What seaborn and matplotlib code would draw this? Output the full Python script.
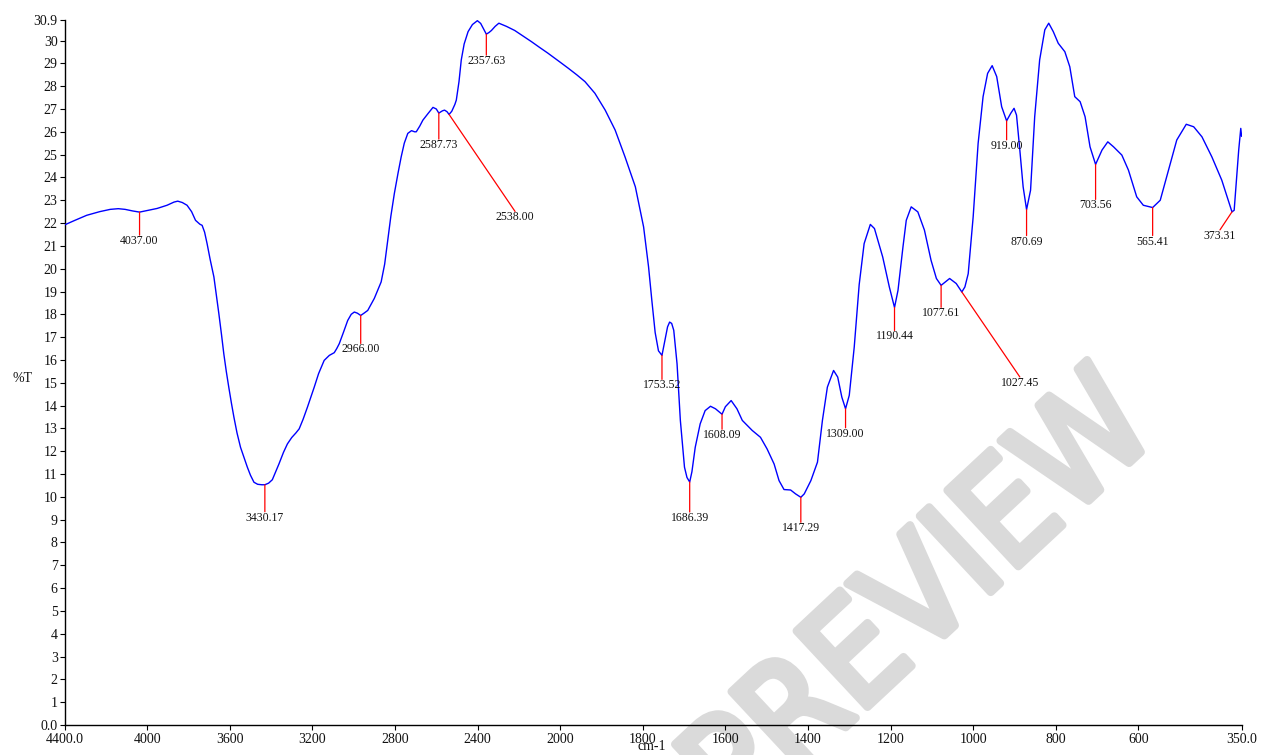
import numpy as np
import pandas as pd
import matplotlib
matplotlib.use("Agg")
import matplotlib.pyplot as plt
import seaborn as sns
from matplotlib import font_manager, patheffects

# IR spectrum: wavenumber (cm-1) and transmittance (%T)
wavenumber = [
    4400, 4350, 4293, 4230, 4179, 4140, 4107, 4070, 4037, 4000, 3952, 3904, 3870, 3852,
    3830, 3807, 3785, 3766, 3745, 3734, 3722, 3710, 3695, 3677, 3665, 3653, 3640, 3629,
    3617, 3605, 3592, 3580, 3565, 3548, 3530, 3515, 3500, 3483, 3465, 3445, 3430.17, 3412,
    3394, 3378, 3362, 3340, 3321, 3300, 3280, 3264, 3245, 3224, 3208, 3191, 3170, 3143,
    3118, 3094, 3082, 3070, 3050, 3029, 3012, 2997, 2982, 2966, 2950, 2932, 2900, 2867,
    2850, 2835, 2820, 2803, 2785, 2770, 2755, 2738, 2720, 2705, 2697, 2680, 2665, 2640,
    2616, 2600, 2587.73, 2570, 2560, 2548, 2538, 2525, 2510, 2503, 2490, 2479, 2465, 2446,
    2425, 2401, 2385, 2373, 2357.63, 2345, 2333, 2315, 2297, 2260, 2220, 2180, 2139, 2100,
    2060, 2026, 2000, 1980, 1960, 1940, 1916, 1891, 1867, 1843, 1818, 1798, 1786, 1778,
    1770, 1762, 1753.52, 1746, 1740, 1735, 1730, 1725, 1717, 1709, 1699, 1693, 1686.39, 1681,
    1673, 1661, 1649, 1636, 1624, 1608.09, 1600, 1586, 1572, 1559, 1535, 1515, 1499, 1482,
    1470, 1458, 1442, 1430, 1417.29, 1409, 1393, 1377, 1365, 1353, 1338, 1328, 1318, 1309,
    1300, 1288, 1276, 1264, 1249, 1239, 1219, 1203, 1190.44, 1182, 1170, 1162, 1150, 1134,
    1118, 1102, 1089, 1077.61, 1057, 1041, 1027.45, 1020, 1012, 1000, 988, 976, 965, 954,
    943, 931, 919, 909, 901, 895, 887, 879, 870.69, 861, 851, 839, 826.5, 817,
    806, 794, 778, 766, 754, 741, 729, 717, 703.56, 688, 674, 660, 640, 624,
    604, 588, 565.41, 547, 527, 507, 484, 466, 446, 422, 398, 373.31, 368, 357,
    352, 350,
]
transmittance = [
    21.92, 22.12, 22.34, 22.50, 22.60, 22.63, 22.60, 22.53, 22.48, 22.55, 22.64, 22.78, 22.92, 22.96,
    22.90, 22.78, 22.50, 22.12, 21.95, 21.90, 21.60, 21.10, 20.40, 19.64, 18.85, 18.03, 17.10, 16.27,
    15.50, 14.81, 14.10, 13.49, 12.80, 12.17, 11.70, 11.30, 10.95, 10.64, 10.55, 10.53, 10.53, 10.60,
    10.75, 11.10, 11.44, 11.95, 12.32, 12.60, 12.80, 12.98, 13.40, 13.93, 14.35, 14.81, 15.40, 15.98,
    16.20, 16.32, 16.50, 16.71, 17.20, 17.73, 18.00, 18.10, 18.05, 17.95, 18.05, 18.17, 18.70, 19.42,
    20.20, 21.25, 22.30, 23.30, 24.20, 24.90, 25.50, 25.93, 26.05, 26.00, 26.00, 26.25, 26.51, 26.80,
    27.07, 27.00, 26.82, 26.92, 26.95, 26.88, 26.76, 26.90, 27.20, 27.39, 28.20, 29.15, 29.85, 30.39,
    30.70, 30.87, 30.75, 30.54, 30.28, 30.35, 30.44, 30.62, 30.76, 30.62, 30.44, 30.20, 29.95, 29.70,
    29.45, 29.22, 29.05, 28.78, 28.50, 28.20, 27.69, 26.95, 26.08, 24.90, 23.59, 21.83, 20.08, 18.60,
    17.20, 16.40, 16.20, 16.90, 17.45, 17.66, 17.60, 17.30, 15.83, 13.35, 11.30, 10.85, 10.65, 11.10,
    12.17, 13.20, 13.78, 13.97, 13.86, 13.62, 13.95, 14.22, 13.86, 13.35, 12.91, 12.61, 12.10, 11.44,
    10.71, 10.32, 10.30, 10.13, 9.98, 10.13, 10.71, 11.52, 13.35, 14.81, 15.54, 15.25, 14.37, 13.86,
    14.45, 16.56, 19.30, 21.10, 21.94, 21.76, 20.51, 19.20, 18.30, 19.05, 20.95, 22.12, 22.71, 22.49,
    21.69, 20.37, 19.57, 19.27, 19.57, 19.35, 18.98, 19.20, 19.78, 22.27, 25.49, 27.54, 28.56, 28.90,
    28.42, 27.10, 26.48, 26.81, 27.03, 26.73, 25.20, 23.59, 22.59, 23.44, 26.66, 29.15, 30.47, 30.76,
    30.39, 29.88, 29.51, 28.85, 27.54, 27.32, 26.66, 25.34, 24.57, 25.20, 25.56, 25.34, 24.98, 24.32,
    23.15, 22.78, 22.68, 23.00, 24.32, 25.64, 26.33, 26.22, 25.78, 24.90, 23.88, 22.49, 22.56, 25.20,
    26.15, 25.80,
]

# Picked peaks
peak_wavenumbers = [4037.00, 3430.17, 2966.00, 2587.73, 2538.00, 2357.63, 1753.52, 1686.39,
                    1608.09, 1417.29, 1309.00, 1190.44, 1077.61, 1027.45, 919.00, 870.69,
                    703.56, 565.41, 373.31]

x_ticks = [4400, 4000, 3600, 3200, 2800, 2400, 2000, 1800, 1600, 1400, 1200, 1000, 800, 600, 350]
x_tick_labels = ["4400.0", "4000", "3600", "3200", "2800", "2400", "2000", "1800", "1600",
                 "1400", "1200", "1000", "800", "600", "350.0"]
y_ticks = list(range(0, 31)) + [30.9]
y_tick_labels = ["0.0"] + [str(v) for v in range(1, 31)] + ["30.9"]

# leader-line offsets (pixels) from each peak to its label
label_offsets = [(0, -23), (0, -27), (0, -28), (0, -26), (66, -97), (0, -21), (0, -24), (0, -30),
                 (0, -15), (0, -25), (0, -19), (0, -23), (0, -22), (58, -85), (0, -19), (0, -26),
                 (0, -35), (0, -28), (-12, -18)]

sns.set_style("ticks")
plt.rcParams["font.family"] = ["Liberation Serif", "DejaVu Serif"]

W, H = 1262, 755
fig = plt.figure(figsize=(W / 100, H / 100), dpi=100)
ax = fig.add_axes([64.6 / W, 30 / H, 1177 / W, 705 / H])

spec = pd.DataFrame({"wavenumber": wavenumber, "T": transmittance})
sns.lineplot(data=spec, x="wavenumber", y="T", sort=False, estimator=None,
             color="#0000ff", linewidth=1.0, ax=ax, zorder=3)


# expanded scale below 2000 cm-1 (two times the stretch of the high range)
def _fwd(x):
    x = np.asarray(x, dtype=float)
    return np.where(x > 2000, 2000 + (x - 2000) / 2.0, x)


def _inv(u):
    u = np.asarray(u, dtype=float)
    return np.where(u > 2000, 2000 + (u - 2000) * 2.0, u)


ax.set_xscale("function", functions=(_fwd, _inv))
ax.set_xlim(4400, 350)
ax.set_ylim(0, 30.9)

ax.set_xticks(x_ticks)
ax.set_xticklabels(x_tick_labels)
ax.set_yticks(y_ticks)
ax.set_yticklabels(y_tick_labels)
ax.minorticks_off()
ax.tick_params(axis="both", direction="out", length=3.5, width=0.8, color="black",
               labelsize=10, labelcolor="#111111", pad=1.5)
ax.tick_params(axis="x", pad=2.5)

for side in ("top", "right"):
    ax.spines[side].set_visible(False)
for side in ("left", "bottom"):
    ax.spines[side].set_linewidth(1.0)
    ax.spines[side].set_color("black")

ax.set_xlabel("cm-1", fontsize=10, color="#111111", va="center")
ax.set_ylabel("%T", fontsize=10, color="#111111", rotation=0, va="center", ha="center")
ax.xaxis.set_label_coords(0.499, -0.031)
ax.yaxis.set_label_coords(-0.036, 0.491)

# peak labels with red leader lines
wn_asc = np.array(wavenumber)[::-1]
t_asc = np.array(transmittance)[::-1]
for wn, (dx, dy) in zip(peak_wavenumbers, label_offsets):
    t = float(np.interp(wn, wn_asc, t_asc))
    ax.annotate(f"{wn:.2f}", xy=(wn, t), xytext=(dx, dy), textcoords="offset pixels",
                ha="center", va="top", fontsize=8.5, color="#111111", zorder=4,
                arrowprops=dict(arrowstyle="-", color="#ff0000", lw=0.9,
                                shrinkA=0, shrinkB=0, patchA=None, relpos=(0.5, 1.0)))

# watermark, sized to a fixed run length along its baseline
names = {f.name for f in font_manager.fontManager.ttflist}
if "Liberation Sans Narrow" in names:
    wm_kw = dict(family="Liberation Sans Narrow", fontstretch="normal")
else:
    wm_kw = dict(family="DejaVu Sans", fontstretch="condensed")
renderer = fig.canvas.get_renderer()
probe = fig.text(0, 0, "PREVIEW", fontsize=100, **wm_kw)
run_100 = probe.get_window_extent(renderer).width
probe.remove()
wm_size = 100 * 580 / run_100
wm_color = "#dadada"
ax.text(922 / W, 1 - 602 / H, "PREVIEW", transform=fig.transFigure, rotation=43,
        rotation_mode="anchor", ha="center", va="center", fontsize=wm_size,
        color=wm_color, zorder=0.5, clip_on=False, **wm_kw,
        path_effects=[patheffects.withStroke(linewidth=6, foreground=wm_color,
                                             capstyle="round", joinstyle="round")])

fig.savefig("out.png", dpi=100)
